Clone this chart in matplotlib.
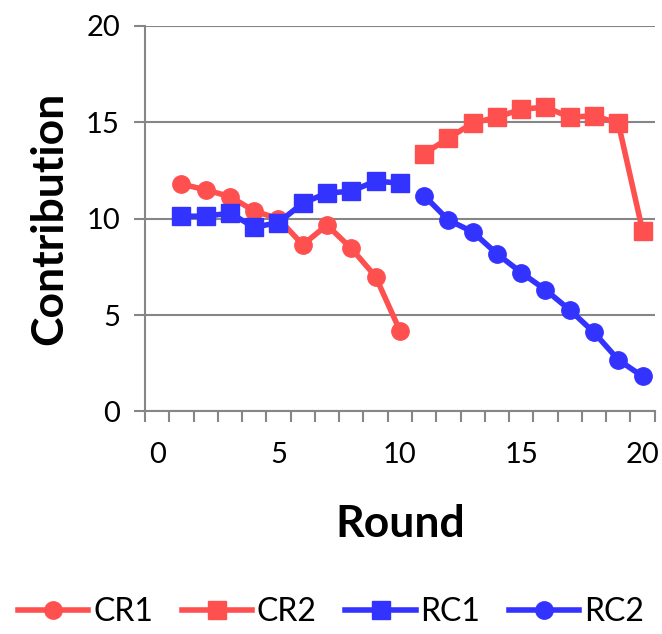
import numpy as np
import matplotlib.pyplot as plt

plt.rcParams['font.family'] = ['Lato', 'DejaVu Sans']

rounds_a = [1, 2, 3, 4, 5, 6, 7, 8, 9, 10]
rounds_b = [11, 12, 13, 14, 15, 16, 17, 18, 19, 20]

cr1 = [11.8, 11.5, 11.15, 10.4, 10.0, 8.65, 9.67, 8.46, 7.0, 4.2]
cr2 = [13.37, 14.18, 14.96, 15.27, 15.68, 15.79, 15.27, 15.34, 14.96, 9.37]
rc1 = [10.13, 10.13, 10.29, 9.56, 9.8, 10.81, 11.33, 11.43, 11.95, 11.85]
rc2 = [11.2, 9.93, 9.32, 8.18, 7.21, 6.31, 5.27, 4.1, 2.68, 1.82]

red = '#FF5050'
blue = '#3333FF'
gray = '#868686'

fig = plt.figure(figsize=(6.62, 6.34), dpi=100)
ax = fig.add_axes([0.219, 0.351, 0.770, 0.608])

ax.plot(rounds_a, cr1, color=red, lw=4, marker='o', ms=12.5, label='CR1', zorder=3)
ax.plot(rounds_b, cr2, color=red, lw=4, marker='s', ms=13.5, label='CR2', zorder=3)
ax.plot(rounds_a, rc1, color=blue, lw=4, marker='s', ms=13.5, label='RC1', zorder=4)
ax.plot(rounds_b, rc2, color=blue, lw=4, marker='o', ms=12.5, label='RC2', zorder=4)

ax.set_xlim(-0.5, 20.5)
ax.set_ylim(0, 20)
ax.set_xticks([0, 5, 10, 15, 20])
ax.set_xticks(np.arange(-0.5, 21, 1), minor=True)
ax.set_yticks([0, 5, 10, 15, 20])
ax.tick_params(axis='x', which='major', length=0, labelsize=21, pad=22)
ax.tick_params(axis='x', which='minor', length=8, width=1.5, color=gray, direction='out')
ax.tick_params(axis='y', length=8, width=1.5, color=gray, labelsize=21, pad=10)

ax.yaxis.grid(True, color=gray, lw=1.5)
ax.set_axisbelow(True)
for s in ['top', 'right']:
    ax.spines[s].set_visible(False)
for s in ['left', 'bottom']:
    ax.spines[s].set_color(gray)
    ax.spines[s].set_linewidth(1.5)

ax.set_xlabel('Round', fontsize=32, fontweight='bold', labelpad=26)
ax.set_ylabel('Contribution', fontsize=32, fontweight='bold', labelpad=12)

fig.legend(loc='lower center', bbox_to_anchor=(0.5, -0.035), ncol=4, frameon=False,
           fontsize=23, handlelength=2.2, handletextpad=0.15, columnspacing=0.9)

fig.savefig('out.png', dpi=100)
